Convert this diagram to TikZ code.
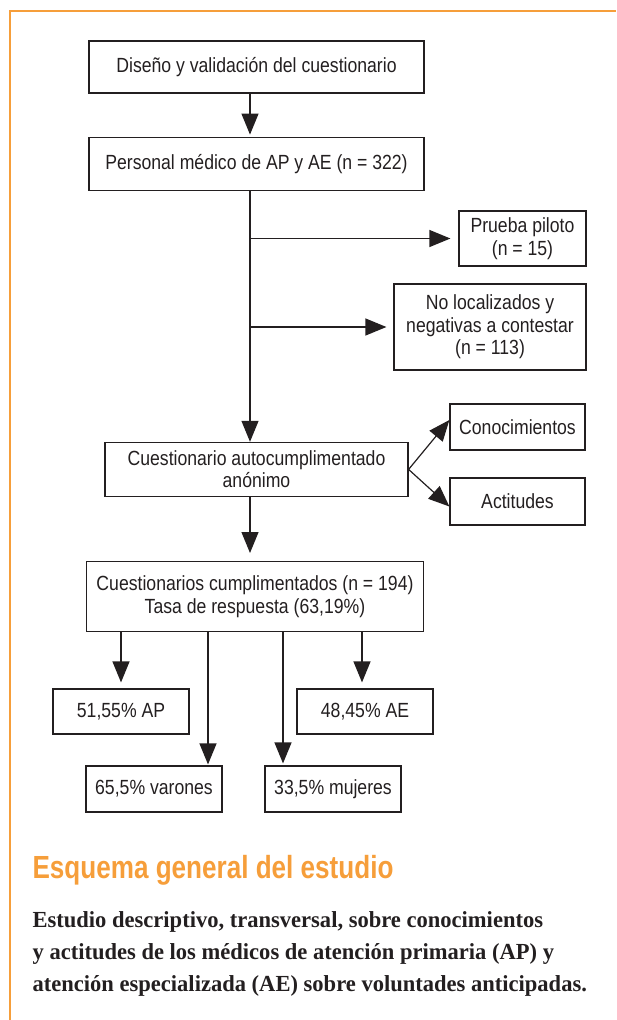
\documentclass[tikz,border=0pt]{standalone}
\usepackage{fontspec}
\setmainfont[FakeStretch=0.98]{Liberation Serif}
\newfontfamily\condfont[FakeStretch=0.86]{Liberation Sans}
\newfontfamily\headfont[FakeStretch=0.815]{Liberation Sans Bold}
\usetikzlibrary{positioning, calc}
\usetikzlibrary{arrows.meta}

\begin{document}
\begin{tikzpicture}[x=1pt, y=-1pt, align=center, >={Triangle[length=21pt,width=17pt]}, line width=1.2pt,
    font=\condfont\fontsize{20.5}{22.5}\selectfont,
    box/.style={draw=ink, text=ink, line width=1.2pt, inner sep=0pt, minimum height=#1},
    box/.default=52pt]
        % Define colors
        \definecolor{ink}{RGB}{35,31,32}
        \definecolor{frameorange}{RGB}{246,158,58}

        % Frame
        \useasboundingbox (0,0) rectangle (616,1020);
        \draw[frameorange, line width=2.5pt] (10,1020) -- (10,11) -- (616,11);

        % Nodes
        \node[box, minimum width=335pt] (design) at (256.5,67) {Diseño y validación del cuestionario};
        \node[box=53pt, minimum width=335pt, below=43pt of design] (staff) {Personal médico de AP y AE (n = 322)};
        \node[box=54pt, minimum width=303pt, below=251pt of staff] (survey) {Cuestionario autocumplimentado\\anónimo};
        \node[box=70pt, minimum width=337pt, below=64pt of survey, xshift=-1.5pt] (results) {Cuestionarios cumplimentados (n = 194)\\Tasa de respuesta (63,19\%)};

        \node[box=55pt, minimum width=127pt] (pilot) at (522.5,238.5) {Prueba piloto\\(n = 15)};
        \node[box=86pt, minimum width=192pt] (lost) at (490,327) {No localizados y\\negativas a contestar\\(n = 113)};
        \node[box=46pt, minimum width=135pt] (knowledge) at (517.5,427) {Conocimientos};
        \node[box=47pt, minimum width=135pt] (attitude) at (517.5,501.5) {Actitudes};

        \node[box=45pt, minimum width=136pt] (ap) at (121,711.5) {51,55\% AP};
        \node[box=45pt, minimum width=136pt] (ae) at (365,711.5) {48,45\% AE};
        \node[box=46pt, minimum width=136pt] (men) at (154,789) {65,5\% varones};
        \node[box=46pt, minimum width=136pt] (women) at (333,789) {33,5\% mujeres};

        \node[anchor=base west, inner sep=0pt, text=frameorange, font=\headfont\fontsize{32}{32}\selectfont] (title) at (32,878) {Esquema general del estudio};
        % base of a multi-line node sits on its last line
        \node[anchor=base west, align=left, text=ink, inner sep=0pt, font=\rmfamily\bfseries\fontsize{23}{32}\selectfont] (summary) at (32,991)
            {Estudio descriptivo, transversal, sobre conocimientos\\y actitudes de los médicos de atención primaria (AP) y\\atención especializada (AE) sobre voluntades anticipadas.};

        % Edges
        \coordinate (spine) at (250,0);
        \draw[ink, ->, shorten >=2pt] (design.south -| spine) -- (staff.north -| spine);
        \draw[ink, ->] (staff.south -| spine) -- (survey.north -| spine);
        \draw[ink, ->, shorten >=8pt] (spine |- pilot.west) -- (pilot.west);
        \draw[ink, ->, shorten >=7pt] (spine |- lost.west) -- (lost.west);
        \draw[ink, ->] (survey.east) -- ([yshift=7pt]knowledge.west);
        \draw[ink, ->] (survey.east) -- ([yshift=-5pt]attitude.west);
        \draw[ink, ->, shorten >=8pt] (survey.south -| spine) -- (results.north -| spine);
        \foreach \target/\xpos/\gap in {ap/121/6, ae/362/6, men/208/1, women/283/2} {
            \draw[ink, ->, shorten >=\gap pt] (\xpos,0 |- results.south) -- (\xpos,0 |- \target.north);
        }
    \end{tikzpicture}
\end{document}
